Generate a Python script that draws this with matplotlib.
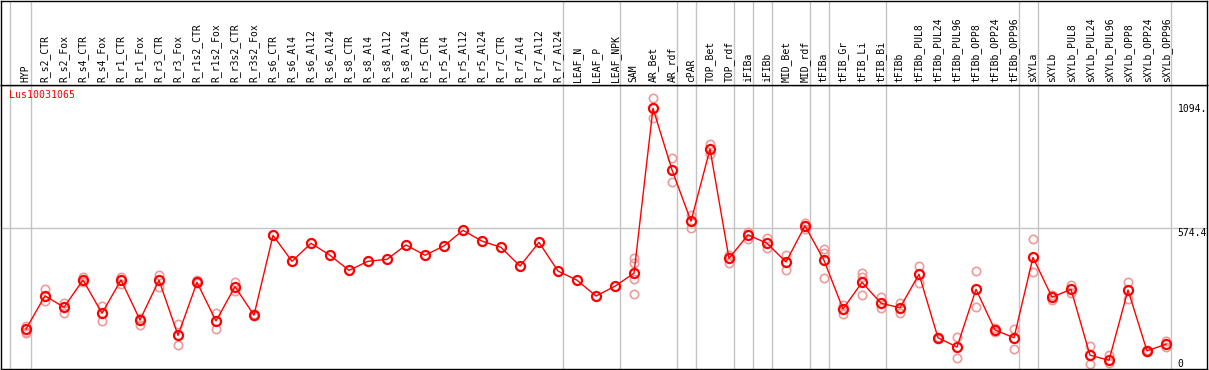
import matplotlib.pyplot as plt

gene = "Lus10031065"

samples = ["HYP", "R_s2_CTR", "R_s2_Fox", "R_s4_CTR", "R_s4_Fox", "R_r1_CTR", "R_r1_Fox",
           "R_r3_CTR", "R_r3_Fox", "R_r1s2_CTR", "R_r1s2_Fox", "R_r3s2_CTR", "R_r3s2_Fox",
           "R_s6_CTR", "R_s6_Al4", "R_s6_Al12", "R_s6_Al24", "R_s8_CTR", "R_s8_Al4",
           "R_s8_Al12", "R_s8_Al24", "R_r5_CTR", "R_r5_Al4", "R_r5_Al12", "R_r5_Al24",
           "R_r7_CTR", "R_r7_Al4", "R_r7_Al12", "R_r7_Al24", "LEAF_N", "LEAF_P", "LEAF_NPK",
           "SAM", "AR_Bet", "AR_rdf", "cPAR", "TOP_Bet", "TOP_rdf", "iFIBa", "iFIBb",
           "MID_Bet", "MID_rdf", "tFIBa", "tFIB_Gr", "tFIB_Li", "tFIB_Bi", "tFIBb",
           "tFIBb_PUL8", "tFIBb_PUL24", "tFIBb_PUL96", "tFIBb_OPP8", "tFIBb_OPP24",
           "tFIBb_OPP96", "sXYLa", "sXYLb", "sXYLb_PUL8", "sXYLb_PUL24", "sXYLb_PUL96",
           "sXYLb_OPP8", "sXYLb_OPP24", "sXYLb_OPP96"]

means = [154, 293, 245, 359, 220, 359, 192, 358, 128, 349, 188, 331, 212,
         545, 437, 512, 462, 399, 437, 445, 505, 462, 501, 566, 521, 495, 417, 516, 396,
         358, 292, 333, 387, 1075, 818, 604, 905, 449, 547, 512, 434, 585, 441,
         238, 349, 262, 243, 383, 118, 79, 320, 150, 118,
         453, 287, 320, 45, 24, 317, 63, 91]

# individual replicates (only those visible apart from the mean)
reps = [[167, 143, 136], [320, 270], [264, 222], [370, 352], [250, 189], [371, 342],
        [171, 199], [380, 328], [174, 86], [359, 345], [220, 156], [352, 314], [217, 209],
        [], [], [], [], [], [], [], [], [], [], [], [], [], [], [], [],
        [], [], [], [452, 431, 362, 300], [1117, 1033], [866, 766], [630, 577],
        [925, 884], [463, 431], [558, 530], [535, 491], [463, 399], [595, 573],
        [487, 473, 366], [254, 216], [387, 373, 295], [287, 241], [264, 220],
        [417, 345], [122, 114], [121, 35], [396, 245], [160, 143], [154, 72],
        [529, 391], [296, 275], [338, 306], [83, 10], [46, 11], [350, 281], [66, 60],
        [106, 81]]

group_ends = ["HYP", "R_r7_Al24", "LEAF_NPK", "AR_rdf", "cPAR", "TOP_rdf", "iFIBa",
              "iFIBb", "MID_rdf", "tFIBa", "tFIB_Bi", "tFIBb_OPP96", "sXYLa", "sXYLb_OPP96"]

scale_labels = ["1094.", "574.4", "0"]
scale_pos = [1094, 574.4, 28]

W, H = 1209, 370
fig = plt.figure(figsize=(W / 100, H / 100), dpi=100)
ax = fig.add_axes([1 / W, 1 / H, 1206 / W, 284 / H])
hd = fig.add_axes([1 / W, 285 / H, 1206 / W, 84.5 / H], sharex=ax)

for a in (ax, hd):
    a.set_xticks([])
    a.set_yticks([])
    for s in a.spines.values():
        s.set_color("black")
        s.set_linewidth(1.0)

x = list(range(len(samples)))
ax.set_xlim(-1.316, 62.158)
ax.set_ylim(-12.5, 1172.3)
hd.set_ylim(0, 1)

# separators between sample groups
vlines = [-0.842] + [samples.index(g) + 0.24 for g in group_ends]
for v in vlines:
    ax.axvline(v, color="#c4c4c4", lw=1.0, zorder=1)
    hd.axvline(v, color="#c4c4c4", lw=1.0, zorder=1)
ax.axhline(574.4, color="#c4c4c4", lw=1.0, zorder=1)

for i, r in enumerate(reps):
    ax.plot([i] * len(r), r, "o", ms=6, mfc="none", mec="#ee9a9a", mew=1.2, zorder=2)
ax.plot(x, means, "-", color="red", lw=1.0, zorder=3)
ax.plot(x, means, "o", ms=6.5, mfc="none", mec="red", mew=1.6, zorder=4)

ax.text(-0.9, 1130, gene, color="red", fontsize=7.1, family="DejaVu Sans Mono",
        va="center", ha="left")
for lab, pos in zip(scale_labels, scale_pos):
    ax.text(60.6, pos, lab, fontsize=7, family="DejaVu Sans Mono", va="top", ha="left")

for i, name in enumerate(samples):
    hd.text(i + 0.14, 0.03, name, rotation=90, rotation_mode="anchor", ha="left",
            va="baseline", fontsize=7, family="DejaVu Sans Mono",
            transform=hd.get_xaxis_transform())

fig.savefig("out.png", dpi=100)
